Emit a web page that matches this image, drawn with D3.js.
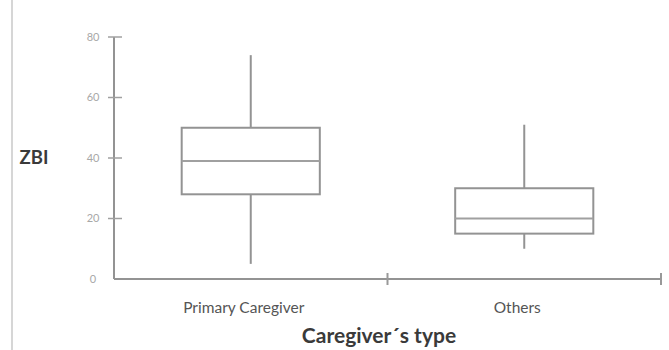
<!DOCTYPE html>
<html><head><meta charset="utf-8">
<script src="https://cdn.jsdelivr.net/npm/d3@7"></script>
<style>body{margin:0;background:#fff;}svg{display:block;}</style>
</head><body>
<script>
const categories = ["Primary Caregiver", "Others"];
const whiskerLow = [5, 10];
const q1 = [28, 15];
const median = [39, 20];
const q3 = [50, 30];
const whiskerHigh = [74, 51];
const yTicks = [0, 20, 40, 60, 80];

const W = 669, H = 350;
const svg = d3.select("body").append("svg").attr("width", W).attr("height", H);

// left border line
svg.append("line").attr("x1", 12).attr("x2", 12).attr("y1", 0).attr("y2", H)
  .attr("stroke", "#c8c8c8").attr("stroke-width", 1.5);

const x = d3.scaleBand().domain(categories).range([114, 661]);
const y = d3.scaleLinear().domain([0, 80]).range([279, 37]);
const lineCol = "#939393";

// Y axis
const gy = svg.append("g").attr("transform", "translate(114,0)");
gy.append("line").attr("x1", 0).attr("x2", 0).attr("y1", y(80)).attr("y2", y(0))
  .attr("stroke", lineCol).attr("stroke-width", 2);
gy.selectAll("line.tk").data(yTicks.filter(d => d > 0)).enter().append("line")
  .attr("class", "tk").attr("x1", -6).attr("x2", 8)
  .attr("y1", d => y(d)).attr("y2", d => y(d))
  .attr("stroke", "#a0a0a0").attr("stroke-width", 1.5);
gy.selectAll("text").data(yTicks).enter().append("text")
  .attr("x", -21).attr("y", d => y(d)).attr("dy", "0.35em")
  .attr("text-anchor", "middle")
  .attr("font-family", "Lato, 'Open Sans', sans-serif").attr("font-size", 11)
  .attr("fill", "#a8a8a8").text(d => d);

// X axis
const gx = svg.append("g");
gx.append("line").attr("x1", 114).attr("x2", 661).attr("y1", y(0)).attr("y2", y(0))
  .attr("stroke", lineCol).attr("stroke-width", 2);
gx.selectAll("line.tk").data(categories).enter().append("line")
  .attr("class", "tk")
  .attr("x1", d => x(d) + x.bandwidth()).attr("x2", d => x(d) + x.bandwidth())
  .attr("y1", y(0) - 6).attr("y2", y(0) + 6)
  .attr("stroke", "#999").attr("stroke-width", 2);
gx.selectAll("text").data(categories).enter().append("text")
  .attr("x", d => x(d) + x.bandwidth() / 2 - 7).attr("y", 313)
  .attr("text-anchor", "middle")
  .attr("font-family", "Lato, 'Open Sans', sans-serif").attr("font-size", 15.5)
  .attr("fill", "#555").text(d => d);

// boxes
const bw = x.bandwidth() * 0.505;
const g = svg.selectAll("g.box").data(categories).enter().append("g").attr("class", "box");
g.each(function(c, i) {
  const s = d3.select(this);
  const cx = x(c) + x.bandwidth() / 2;
  s.append("line").attr("x1", cx).attr("x2", cx).attr("y1", y(whiskerHigh[i])).attr("y2", y(q3[i]))
    .attr("stroke", lineCol).attr("stroke-width", 2);
  s.append("line").attr("x1", cx).attr("x2", cx).attr("y1", y(q1[i])).attr("y2", y(whiskerLow[i]))
    .attr("stroke", lineCol).attr("stroke-width", 2);
  s.append("rect").attr("x", cx - bw / 2).attr("y", y(q3[i]))
    .attr("width", bw).attr("height", y(q1[i]) - y(q3[i]))
    .attr("fill", "none").attr("stroke", lineCol).attr("stroke-width", 2);
  s.append("line").attr("x1", cx - bw / 2).attr("x2", cx + bw / 2)
    .attr("y1", y(median[i])).attr("y2", y(median[i]))
    .attr("stroke", "#a0a0a0").attr("stroke-width", 2);
});

// axis titles
svg.append("text").attr("x", 34).attr("y", 158).attr("dy", "0.35em")
  .attr("text-anchor", "middle")
  .attr("font-family", "Lato, 'Open Sans', sans-serif").attr("font-size", 18.5)
  .attr("font-weight", "bold").attr("fill", "#3a3a3a").text("ZBI");
svg.append("text").attr("x", 379).attr("y", 343)
  .attr("text-anchor", "middle")
  .attr("font-family", "Lato, 'Open Sans', sans-serif").attr("font-size", 21)
  .attr("font-weight", "bold").attr("fill", "#3a3a3a").text("Caregiver\u00b4s type");
</script>
</body></html>
